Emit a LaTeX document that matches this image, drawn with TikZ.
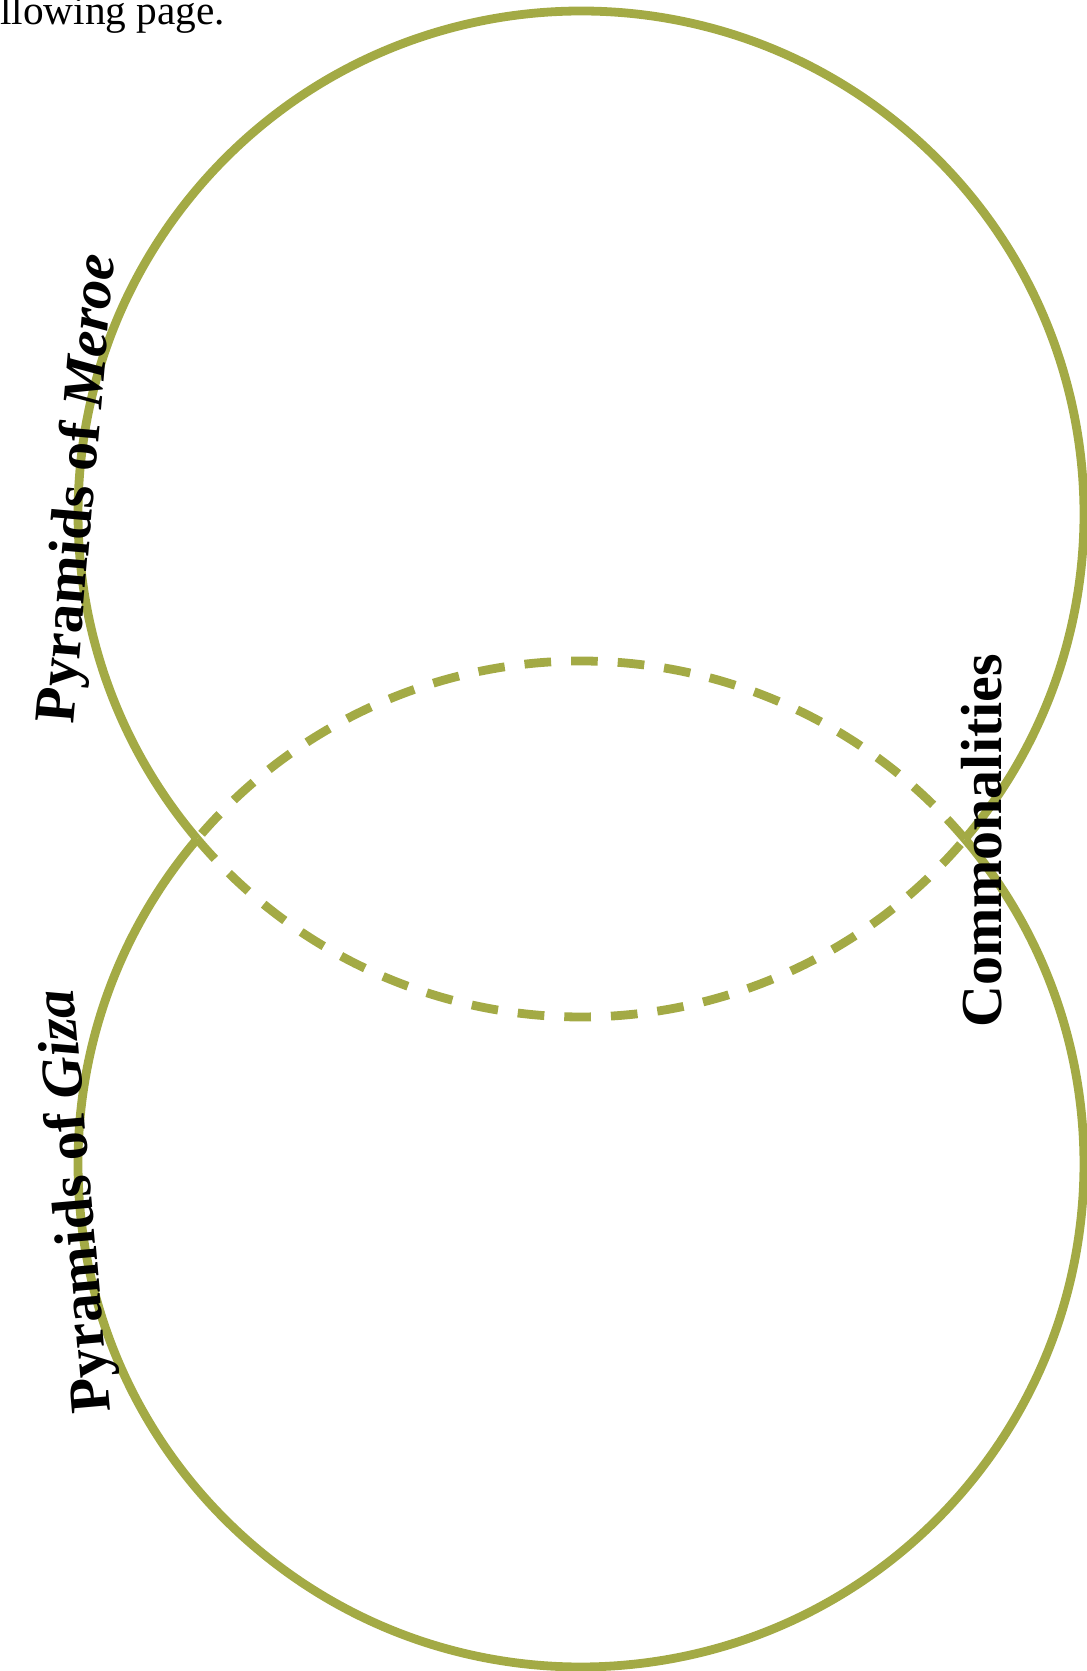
\documentclass[tikz,border=0pt]{standalone}
\usepackage{fontspec}
\setmainfont{Liberation Serif}
\usepackage{xcolor}
\usepackage{tikz}
\usetikzlibrary{positioning}
\definecolor{olive}{RGB}{163,170,69}

\begin{document}
\begin{tikzpicture}[x=0.75pt,y=0.75pt,
  ring/.style={draw=olive,line width=6.6pt},
  overlap/.style={ring,dash pattern=on 20pt off 15pt},
  lbl/.style={inner sep=0pt,anchor=base,font=\fontsize{43.5}{50}\selectfont\bfseries}]
  \useasboundingbox (0,0) rectangle (1087,1671);
  % the two circle centres
  \coordinate (meroe) at (581,1157);
  \coordinate (giza) at (581,507);
  % outer arcs, solid
  \draw[ring] (meroe) ++(-40.25:503) arc[start angle=-40.25,end angle=220.25,radius=503];
  \draw[ring] (giza) ++(139.75:503) arc[start angle=139.75,end angle=400.25,radius=503];
  % shared part, dashed
  \draw[overlap] (meroe) ++(220.25:503) arc[start angle=220.25,end angle=319.75,radius=503];
  \draw[overlap] (giza) ++(40.25:503) arc[start angle=40.25,end angle=139.75,radius=503];
  % texts
  \node[inner sep=0pt,anchor=base west,font=\fontsize{31}{36}\selectfont] (note) at (0,1646) {llowing page.};
  \node[lbl,rotate=85] (meroeName) at (94,1181) {Pyramids of \textit{Meroe}};
  \node[lbl,rotate=95] (gizaName) at (92,471) {Pyramids of \textit{Giza}};
  \node[lbl,rotate=90] (common) at (1001,830) {Commonalities};
\end{tikzpicture}
\end{document}
